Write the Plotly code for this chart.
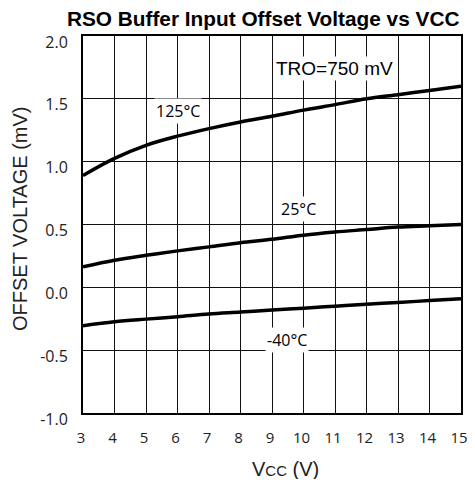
import plotly.graph_objects as go

vcc = [3, 4, 5, 6, 7, 8, 9, 10, 11, 12, 13, 14, 15]
off_125 = [0.89, 1.026, 1.13, 1.203, 1.263, 1.316, 1.361, 1.41, 1.454, 1.50, 1.533, 1.567, 1.60]
off_25 = [0.163, 0.216, 0.255, 0.29, 0.322, 0.355, 0.382, 0.415, 0.44, 0.46, 0.48, 0.49, 0.50]
off_m40 = [-0.305, -0.274, -0.253, -0.234, -0.213, -0.197, -0.18, -0.166, -0.15, -0.134, -0.121, -0.105, -0.09]

x_ticks = list(range(3, 16))
y_ticks = [-1.0, -0.5, 0.0, 0.5, 1.0, 1.5, 2.0]
y_ticklabels = ["-1.0", "-0.5", "0.0", "0.5", "1.0", "1.5", "2.0"]

labels = [
    ("TRO=750 mV", 10.97, 1.74, "Liberation Sans, Arial", 19),
    ("125°C", 6.02, 1.40, "Open Sans, Noto Sans", 16),
    ("25°C", 9.83, 0.62, "Open Sans, Noto Sans", 16),
    ("-40°C", 9.49, -0.42, "Open Sans, Noto Sans", 16),
]

fig = go.Figure()
for ys in (off_125, off_25, off_m40):
    fig.add_trace(go.Scatter(x=vcc, y=ys, mode="lines", line=dict(color="black", width=3.5, shape="spline"),
                             showlegend=False, hoverinfo="skip"))

for text, x, y, fam, sz in labels:
    fig.add_annotation(x=x, y=y, text=text, showarrow=False, bgcolor="white",
                       font=dict(family=fam, size=sz, color="black"), borderpad=1)

# axis titles
fig.add_annotation(xref="paper", yref="paper", x=0.537, y=-0.148, yanchor="middle", xanchor="center",
                   showarrow=False,
                   text="V<span style='font-size:15px'>CC</span> (V)",
                   font=dict(family="Liberation Sans, Arial", size=20, color="#222"))
fig.add_annotation(xref="paper", yref="paper", x=-0.1667, y=0.5146, yanchor="middle", xanchor="center",
                   showarrow=False, textangle=-90,
                   text="OFFSET VOLTAGE (mV)",
                   font=dict(family="Liberation Sans, Arial", size=20, color="#222"))

fig.update_layout(
    width=459, height=471,
    margin=dict(l=75, r=6, t=28, b=66),
    paper_bgcolor="white", plot_bgcolor="white",
    title=dict(text="<b>RSO Buffer Input Offset Voltage vs VCC</b>", x=0.556, xanchor="center",
               y=0.977, yanchor="middle",
               font=dict(family="Liberation Sans, Arial", size=20.8, color="black")),
)
fig.update_xaxes(range=[3, 15], tickvals=x_ticks, ticktext=[str(v) for v in x_ticks],
                 showgrid=True, gridcolor="#111", gridwidth=1.2,
                 showline=True, linecolor="black", linewidth=2, mirror=True,
                 zeroline=False, ticks="", ticklabelstandoff=10, ticklabelshift=-2,
                 ticklabeloverflow="allow", automargin=False,
                 tickfont=dict(family="Open Sans, Noto Sans", size=15, color="#222"))
fig.update_yaxes(range=[-1.0, 2.0], tickvals=y_ticks, ticktext=y_ticklabels,
                 showgrid=True, gridcolor="#111", gridwidth=1.2,
                 showline=True, linecolor="black", linewidth=2, mirror=True,
                 zeroline=False, ticks="", ticklabelstandoff=10, ticklabelshift=6,
                 ticklabeloverflow="allow", automargin=False,
                 tickfont=dict(family="Open Sans, Noto Sans", size=16, color="#222"))

fig.write_html("out.html")
